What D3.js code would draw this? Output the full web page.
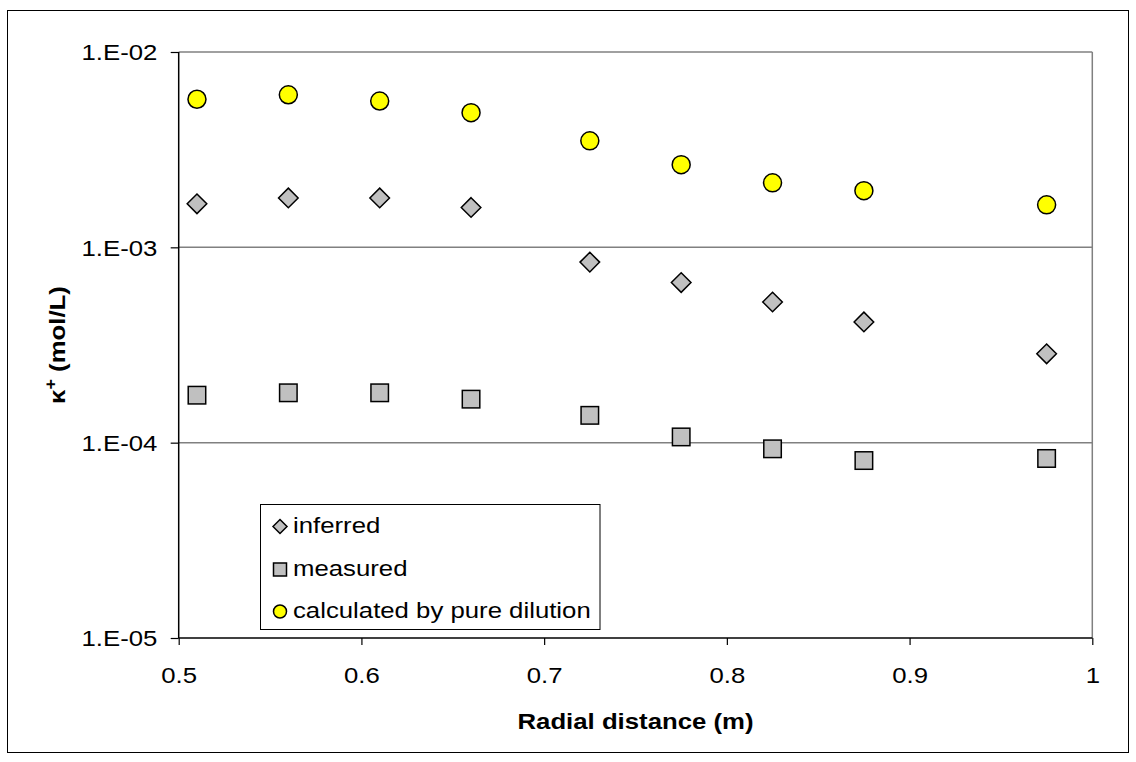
<!DOCTYPE html>
<html>
<head>
<meta charset="utf-8">
<script src="https://cdn.jsdelivr.net/npm/d3@7/dist/d3.min.js"></script>
<style>
  html, body { margin: 0; padding: 0; background: #fff; }
  svg { display: block; }
  text { font-family: "Liberation Sans", Arial, sans-serif; fill: #000; }
</style>
</head>
<body>
<svg id="chart" width="1136" height="762"></svg>
<script>
// ---- data ----
const radialDistance = [0.51, 0.56, 0.61, 0.66, 0.725, 0.775, 0.825, 0.875, 0.975];
const inferred   = [1.67e-3, 1.79e-3, 1.79e-3, 1.60e-3, 8.4e-4, 6.6e-4, 5.25e-4, 4.15e-4, 2.85e-4];
const measured   = [1.75e-4, 1.80e-4, 1.80e-4, 1.67e-4, 1.38e-4, 1.07e-4, 9.3e-5, 8.1e-5, 8.3e-5];
const pureDilution = [5.73e-3, 6.04e-3, 5.61e-3, 4.89e-3, 3.51e-3, 2.65e-3, 2.14e-3, 1.95e-3, 1.65e-3];
const xTicks = [0.5, 0.6, 0.7, 0.8, 0.9, 1];
const xTickLabels = ["0.5", "0.6", "0.7", "0.8", "0.9", "1"];
const yTicks = [1e-2, 1e-3, 1e-4, 1e-5];
const yTickLabels = ["1.E-02", "1.E-03", "1.E-04", "1.E-05"];
const seriesNames = ["inferred", "measured", "calculated by pure dilution"];
const xTitle = "Radial distance (m)";

// ---- layout ----
const SX = 1.12;       // horizontal text stretch seen in reference
const FS = 23;
const plot = { left: 178.7, right: 1092.3, top: 52, bottom: 638 };

const svg = d3.select("#chart");

// outer frame
svg.append("rect").attr("x", 7.5).attr("y", 10.5).attr("width", 1121).attr("height", 742)
  .attr("fill", "none").attr("stroke", "#000").attr("stroke-width", 1);

const x = d3.scaleLinear().domain([0.5, 1]).range([plot.left, plot.right]);
const y = d3.scaleLog().domain([1e-5, 1e-2]).range([plot.bottom, plot.top]);

// gridlines (gray) incl. top
svg.append("g").selectAll("line").data(yTicks.filter(v => v !== 1e-5)).join("line")
  .attr("x1", plot.left).attr("x2", plot.right)
  .attr("y1", d => y(d)).attr("y2", d => y(d))
  .attr("stroke", "#808080").attr("stroke-width", 1.5);
// right border
svg.append("line").attr("x1", plot.right).attr("x2", plot.right)
  .attr("y1", plot.top).attr("y2", plot.bottom)
  .attr("stroke", "#808080").attr("stroke-width", 1.5);

// axes
const xAxis = d3.axisBottom(x).tickValues(xTicks)
  .tickFormat((d, i) => xTickLabels[i]).tickSize(7).tickPadding(0);
const gx = svg.append("g").attr("transform", `translate(0,${plot.bottom})`).call(xAxis);
gx.select(".domain").attr("stroke", "#000").attr("stroke-width", 1.5)
  .attr("d", `M${plot.left},0H${plot.right}`);
gx.selectAll(".tick line").attr("stroke", "#000").attr("stroke-width", 1.2);
gx.selectAll(".tick text").attr("font-size", FS).attr("font-family", "Liberation Sans, Arial, sans-serif")
  .attr("fill", "#000").attr("dy", null).attr("y", 45)
  .attr("transform", `scale(${SX},1)`);

const yAxis = d3.axisLeft(y).tickValues(yTicks)
  .tickFormat((d, i) => yTickLabels[i]).tickSize(8).tickPadding(0);
const gy = svg.append("g").attr("transform", `translate(${plot.left},0)`).call(yAxis);
gy.select(".domain").attr("stroke", "#000").attr("stroke-width", 1.5)
  .attr("d", `M0,${plot.top}V${plot.bottom}`);
gy.selectAll(".tick line").attr("stroke", "#000").attr("stroke-width", 1.2);
gy.selectAll(".tick text").attr("font-size", FS).attr("font-family", "Liberation Sans, Arial, sans-serif")
  .attr("fill", "#000").attr("x", -19).attr("dy", "0.34em")
  .attr("transform", `scale(${SX},1)`);

// axis titles
svg.append("text")
  .attr("transform", `translate(${(plot.left + plot.right) / 2},729) scale(${SX},1)`)
  .attr("text-anchor", "middle").attr("font-size", FS).attr("font-weight", "bold")
  .text(xTitle);

const yt = svg.append("text")
  .attr("transform", `translate(65,${(plot.top + plot.bottom) / 2}) rotate(-90) scale(${SX},1)`)
  .attr("text-anchor", "middle").attr("font-size", FS).attr("font-weight", "bold");
yt.append("tspan").text("κ");
yt.append("tspan").attr("font-size", 16).attr("dy", -9).text("+");
yt.append("tspan").attr("dy", 9).text(" (mol/L)");

// markers
const diamond = (cx, cy, h) => `M${cx},${cy - h}L${cx + h},${cy}L${cx},${cy + h}L${cx - h},${cy}Z`;
const marks = svg.append("g");

marks.selectAll("path.inf").data(inferred).join("path").attr("class", "inf")
  .attr("d", (d, i) => diamond(x(radialDistance[i]), y(d), 9.8))
  .attr("fill", "#C0C0C0").attr("stroke", "#000").attr("stroke-width", 1.5);

const sq = 17.5;
marks.selectAll("rect.meas").data(measured).join("rect").attr("class", "meas")
  .attr("x", (d, i) => x(radialDistance[i]) - sq / 2).attr("y", d => y(d) - sq / 2)
  .attr("width", sq).attr("height", sq)
  .attr("fill", "#C0C0C0").attr("stroke", "#000").attr("stroke-width", 1.5);

marks.selectAll("circle.dil").data(pureDilution).join("circle").attr("class", "dil")
  .attr("cx", (d, i) => x(radialDistance[i])).attr("cy", d => y(d)).attr("r", 9)
  .attr("fill", "#FFFF00").attr("stroke", "#000").attr("stroke-width", 1.5);

// legend
const lg = svg.append("g");
lg.append("rect").attr("x", 260.5).attr("y", 504.5).attr("width", 339.5).attr("height", 125)
  .attr("fill", "#fff").attr("stroke", "#000").attr("stroke-width", 1);
const rows = [526.5, 569.5, 611.5];
const mx = 280;
lg.append("path").attr("d", diamond(mx, rows[0], 7)).attr("fill", "#C0C0C0").attr("stroke", "#000").attr("stroke-width", 1.5);
lg.append("rect").attr("x", mx - 6.5).attr("y", rows[1] - 6.5).attr("width", 13).attr("height", 13)
  .attr("fill", "#C0C0C0").attr("stroke", "#000").attr("stroke-width", 1.5);
lg.append("circle").attr("cx", mx).attr("cy", rows[2]).attr("r", 6.5)
  .attr("fill", "#FFFF00").attr("stroke", "#000").attr("stroke-width", 1.5);
seriesNames.forEach((name, i) => {
  lg.append("text")
    .attr("transform", `translate(293,${rows[i] + 6}) scale(${SX},1)`)
    .attr("font-size", FS).text(name);
});
</script>
</body>
</html>
